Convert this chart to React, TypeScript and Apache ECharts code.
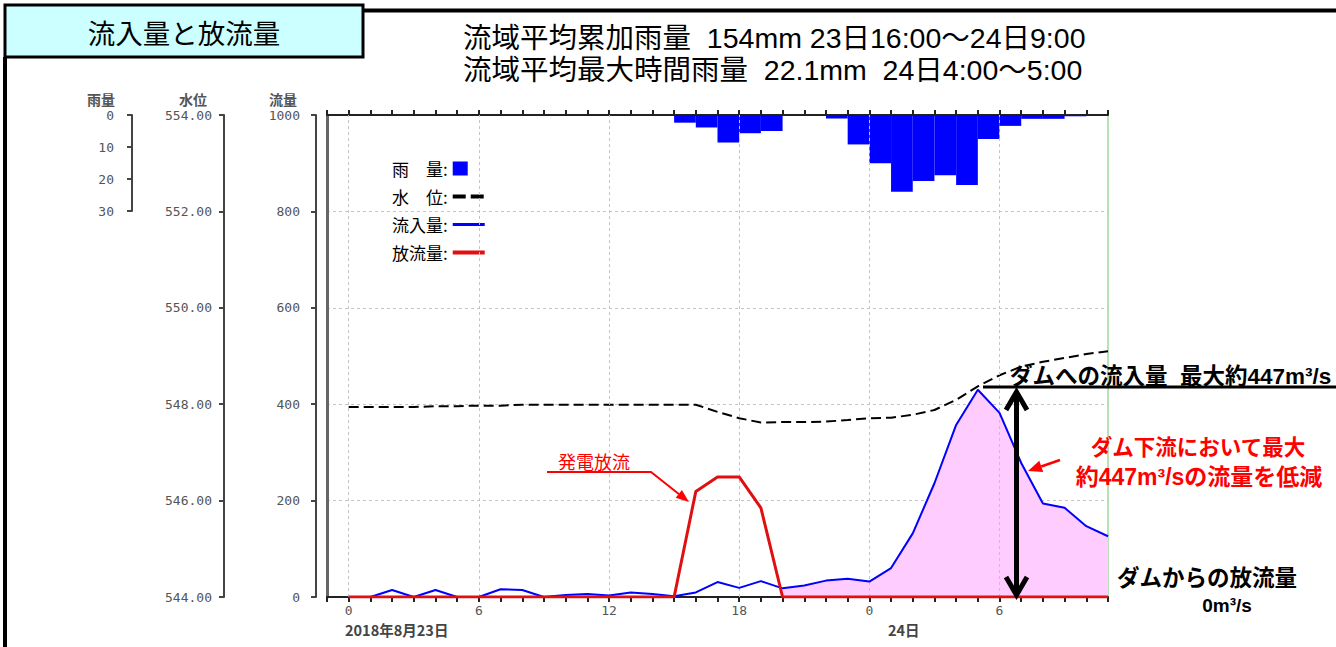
import React, { useEffect, useRef } from "react";
import * as echarts from "echarts";

// hours from 2018-08-23 0:00 (24 = 24日 0:00)
const hours = [0, 1, 2, 3, 4, 5, 6, 7, 8, 9, 10, 11, 12, 13, 14, 15, 16, 17, 18, 19, 20, 21, 22, 23, 24, 25, 26, 27, 28, 29, 30, 31, 32, 33, 34, 35];
const inflow = [0, 0, 14.5, 0, 14.5, 0, 0, 16, 14.5, 0, 4, 6, 3, 9.5, 6, 1.5, 9.5, 31, 19, 33, 18, 24, 34, 38, 32, 60, 132, 236, 357, 430, 382, 278, 194, 185, 147, 126];
const outflow = [0, 0, 0, 0, 0, 0, 0, 0, 0, 0, 0, 0, 0, 0, 0, 0, 219, 249, 249, 185, 0, 0, 0, 0, 0, 0, 0, 0, 0, 0, 0, 0, 0, 0, 0, 0];
const waterLevel = [547.94, 547.94, 547.94, 547.94, 547.96, 547.96, 547.97, 547.97, 547.99, 547.99, 547.99, 547.99, 547.99, 547.99, 547.99, 547.99, 547.99, 547.84, 547.71, 547.62, 547.63, 547.63, 547.64, 547.67, 547.71, 547.72, 547.78, 547.88, 548.09, 548.37, 548.6, 548.78, 548.88, 548.96, 549.04, 549.1];
// hourly rainfall, plotted over [hour-1, hour]
const rainHourEnd = [16, 17, 18, 19, 20, 23, 24, 25, 26, 27, 28, 29, 30, 31, 32, 33, 34];
const rainMm = [2.4, 3.9, 8.6, 5.7, 5.0, 1.1, 9.2, 15.1, 24.0, 20.6, 18.8, 21.9, 7.5, 3.4, 1.2, 1.2, 0.4];
// hours with pink "reduced flow" shading
const shadeFrom = 20;
const gridHours = [0, 6, 12, 18, 24, 30];

const names = { rain: "雨　量", level: "水　位", inflow: "流入量", outflow: "放流量" };
const JP = "Noto Sans CJK JP";
const MIX = "Liberation Sans, Noto Sans CJK JP";
const MONO = "DejaVu Sans Mono";

function arrowHead(tail: number[], tip: number[], len: number, half: number) {
  const dx = tip[0] - tail[0];
  const dy = tip[1] - tail[1];
  const l = Math.hypot(dx, dy);
  const ux = dx / l, uy = dy / l;
  const bx = tip[0] - ux * len, by = tip[1] - uy * len;
  return {
    base: [bx, by],
    pts: [tip, [bx - uy * half, by + ux * half], [bx + uy * half, by - ux * half]],
  };
}

export default function App() {
  const ref = useRef<HTMLDivElement>(null);
  useEffect(() => {
    if (!ref.current) return;
    const chart = echarts.init(ref.current, null, { renderer: "svg" });

    const axisLblStyle = { color: "#555", fontSize: 13, fontFamily: MONO };
    const nameStyle = (pad: number) => ({ color: "#555", fontSize: 14, fontFamily: JP, fontWeight: "bold" as const, align: "right" as const, padding: [0, pad, 0, 0] });
    const yLine = { show: true, onZero: false, lineStyle: { color: "#444", width: 2 } };
    const yTick = { show: true, length: 5, lineStyle: { color: "#444", width: 2 } };

    const a1 = arrowHead([651, 472], [689, 502], 13, 5);
    const a2 = arrowHead([1060, 460], [1028, 471], 14, 6);

    chart.setOption({
      animation: false,
      backgroundColor: "#fff",
      grid: [
        { left: 327, right: 228, top: 115, bottom: 50 },
        { left: 327, right: 228, top: 115, height: 96 },
      ],
      xAxis: [
        {
          gridIndex: 0, type: "value", min: -1, max: 35, interval: 1, position: "bottom",
          axisLine: { show: true, onZero: false, lineStyle: { color: "#222", width: 2 } },
          axisTick: { show: true, length: 5, lineStyle: { color: "#222", width: 2 } },
          axisLabel: {
            ...axisLblStyle, margin: 7,
            formatter: (v: number) => (v >= 0 && v % 6 === 0 ? String(v % 24) : ""),
          },
          splitLine: { show: false },
        },
        {
          gridIndex: 0, type: "value", min: -1, max: 35, interval: 1, position: "top",
          axisLine: { show: true, onZero: false, lineStyle: { color: "#222", width: 2 } },
          axisTick: { show: true, length: 5, lineStyle: { color: "#222", width: 2 } },
          axisLabel: { show: false },
          splitLine: { show: false },
        },
        { gridIndex: 1, type: "value", min: -1, max: 35, show: false },
      ],
      yAxis: [
        {
          gridIndex: 0, type: "value", min: 0, max: 1000, interval: 200, position: "left", offset: 11,
          name: "流量", nameLocation: "end", nameGap: 9, nameTextStyle: nameStyle(19),
          axisLine: yLine, axisTick: yTick,
          axisLabel: { ...axisLblStyle, margin: 16, formatter: (v: number) => String(v) },
          splitLine: { show: true, lineStyle: { color: "#c4c4c4", type: [3, 3], width: 1 } },
        },
        {
          gridIndex: 0, type: "value", min: 544, max: 554, interval: 2, position: "left", offset: 103,
          name: "水位", nameLocation: "end", nameGap: 9, nameTextStyle: nameStyle(17),
          axisLine: yLine, axisTick: yTick,
          axisLabel: { ...axisLblStyle, margin: 12, formatter: (v: number) => v.toFixed(2) },
          splitLine: { show: false },
        },
        {
          gridIndex: 1, type: "value", min: 0, max: 30, interval: 10, inverse: true, position: "left", offset: 195,
          name: "雨量", nameLocation: "start", nameGap: 9, nameTextStyle: nameStyle(17),
          axisLine: yLine, axisTick: yTick,
          axisLabel: { ...axisLblStyle, margin: 18 },
          splitLine: { show: false },
        },
        {
          gridIndex: 0, type: "value", min: 0, max: 1000, position: "left", offset: 0,
          axisLine: { show: true, onZero: false, lineStyle: { color: "#666", width: 3 } },
          axisTick: { show: false }, axisLabel: { show: false }, splitLine: { show: false },
        },
        {
          gridIndex: 0, type: "value", min: 0, max: 1000, position: "right", offset: 0,
          axisLine: { show: true, onZero: false, lineStyle: { color: "#9fd89f", width: 1.5 } },
          axisTick: { show: false }, axisLabel: { show: false }, splitLine: { show: false },
        },
      ],
      legend: {
        orient: "vertical", left: 387, top: 155, align: "right",
        itemWidth: 32, itemHeight: 14, itemGap: 11, selectedMode: false,
        textStyle: { fontSize: 17, fontFamily: JP, color: "#000" },
        formatter: (n: string) => n + ":",
        data: [
          { name: names.rain, icon: "path://M0,0H15V14H0Z M31.9,13.9H32V14H31.9Z" },
          { name: names.level, icon: "path://M0,5H13V9H0Z M18,5H31V9H18Z M0,0H0.1V0.1H0Z M31.9,13.9H32V14H31.9Z" },
          { name: names.inflow, icon: "path://M0,5.5H32V8.5H0Z M0,0H0.1V0.1H0Z M31.9,13.9H32V14H31.9Z" },
          { name: names.outflow, icon: "path://M0,5H32V9H0Z M0,0H0.1V0.1H0Z M31.9,13.9H32V14H31.9Z" },
        ],
      },
      series: [
        {
          type: "line", name: "grid", xAxisIndex: 0, yAxisIndex: 0, z: 0, silent: true,
          data: [[0, 0]], symbol: "none", lineStyle: { opacity: 0 },
          markLine: {
            silent: true, symbol: "none", label: { show: false },
            lineStyle: { color: "#c4c4c4", type: [3, 3], width: 1 },
            data: gridHours.map((h) => ({ xAxis: h })),
          },
        },
        {
          type: "line", name: "shade", xAxisIndex: 0, yAxisIndex: 0, z: 1, silent: true,
          data: hours.filter((h) => h >= shadeFrom).map((h) => [h, inflow[h]]),
          symbol: "none", lineStyle: { width: 0 },
          areaStyle: { color: "#ffccff", opacity: 1 },
        },
        {
          type: "custom", name: names.rain, xAxisIndex: 2, yAxisIndex: 2, z: 3,
          itemStyle: { color: "#0000ff" },
          data: rainHourEnd.map((h, i) => [h, rainMm[i]]),
          renderItem: (params: any, api: any) => {
            const end = api.value(0);
            const mm = api.value(1);
            const a = api.coord([end - 1, 0]);
            const b = api.coord([end, mm]);
            return {
              type: "rect",
              shape: { x: a[0], y: a[1], width: b[0] - a[0], height: b[1] - a[1] },
              style: { fill: "#0000ff" },
            };
          },
        },
        {
          type: "line", name: names.level, xAxisIndex: 0, yAxisIndex: 1, z: 4,
          data: hours.map((h, i) => [h, waterLevel[i]]),
          symbol: "none", color: "#000",
          lineStyle: { color: "#000", width: 2, type: [10, 5] },
        },
        {
          type: "line", name: names.inflow, xAxisIndex: 0, yAxisIndex: 0, z: 5,
          data: hours.map((h, i) => [h, inflow[i]]),
          symbol: "none", color: "#0000ff",
          lineStyle: { color: "#0000ff", width: 2 },
        },
        {
          type: "line", name: names.outflow, xAxisIndex: 0, yAxisIndex: 0, z: 6,
          data: hours.map((h, i) => [h, outflow[i]]),
          symbol: "none", color: "#e01010",
          lineStyle: { color: "#e01010", width: 3 },
        },
      ],
      graphic: [
        { type: "rect", z: 10, shape: { x: 5, y: 5, width: 358, height: 52 }, style: { fill: "#ccffff", stroke: "#000", lineWidth: 3 } },
        { type: "text", z: 11, x: 184, y: 32, style: { text: "流入量と放流量", fontSize: 27.5, fontFamily: JP, fill: "#000", align: "center", verticalAlign: "middle" } },
        { type: "line", z: 10, shape: { x1: 363, y1: 10.5, x2: 1336, y2: 10.5 }, style: { stroke: "#000", lineWidth: 4 } },
        { type: "line", z: 10, shape: { x1: 5, y1: 57, x2: 5, y2: 647 }, style: { stroke: "#000", lineWidth: 4 } },
        { type: "text", z: 11, x: 463, y: 38, style: { text: "流域平均累加雨量  154mm 23日16:00～24日9:00", fontSize: 28.5, fontFamily: MIX, fill: "#000", verticalAlign: "middle" } },
        { type: "text", z: 11, x: 463, y: 70, style: { text: "流域平均最大時間雨量  22.1mm  24日4:00～5:00", fontSize: 28.5, fontFamily: MIX, fill: "#000", verticalAlign: "middle" } },
        { type: "text", z: 11, x: 345, y: 629, style: { text: "2018年8月23日", fontSize: 14.5, fontFamily: JP, fill: "#444", verticalAlign: "middle", fontWeight: "bold" } },
        { type: "text", z: 11, x: 888, y: 629, style: { text: "24日", fontSize: 14.5, fontFamily: JP, fill: "#444", verticalAlign: "middle", fontWeight: "bold" } },
        // 発電放流
        { type: "text", z: 11, x: 594, y: 461, style: { text: "発電放流", fontSize: 18, fontFamily: JP, fill: "#ff0000", align: "center", verticalAlign: "middle" } },
        { type: "polyline", z: 11, shape: { points: [[547, 472], [651, 472], a1.base] }, style: { stroke: "#ff0000", lineWidth: 2, fill: null } },
        { type: "polygon", z: 11, shape: { points: a1.pts }, style: { fill: "#ff0000" } },
        // peak inflow
        { type: "line", z: 11, shape: { x1: 983, y1: 387, x2: 1336, y2: 387 }, style: { stroke: "#000", lineWidth: 3 } },
        { type: "text", z: 12, x: 1010, y: 376, style: { text: "ダムへの流入量  最大約447m³/s", fontSize: 22.5, fontFamily: MIX, fontWeight: "bold", fill: "#000", verticalAlign: "middle" } },
        { type: "line", z: 11, shape: { x1: 1016.5, y1: 392, x2: 1016.5, y2: 593 }, style: { stroke: "#000", lineWidth: 5 } },
        { type: "polyline", z: 11, shape: { points: [[1006, 410], [1016.5, 392], [1027, 410]] }, style: { stroke: "#000", lineWidth: 5, fill: null } },
        { type: "polyline", z: 11, shape: { points: [[1006, 577], [1016.5, 595], [1027, 577]] }, style: { stroke: "#000", lineWidth: 5, fill: null } },
        // reduction annotation
        { type: "line", z: 11, shape: { x1: 1060, y1: 460, x2: a2.base[0], y2: a2.base[1] }, style: { stroke: "#ff0000", lineWidth: 2.5 } },
        { type: "polygon", z: 11, shape: { points: a2.pts }, style: { fill: "#ff0000" } },
        { type: "text", z: 11, x: 1198, y: 448, style: { text: "ダム下流において最大", fontSize: 21.5, fontFamily: MIX, fontWeight: "bold", fill: "#ff0000", align: "center", verticalAlign: "middle" } },
        { type: "text", z: 11, x: 1199, y: 477, style: { text: "約447m³/sの流量を低減", fontSize: 23, fontFamily: MIX, fontWeight: "bold", fill: "#ff0000", align: "center", verticalAlign: "middle" } },
        // outflow annotation
        { type: "text", z: 11, x: 1207, y: 578, style: { text: "ダムからの放流量", fontSize: 22.5, fontFamily: MIX, fontWeight: "bold", fill: "#000", align: "center", verticalAlign: "middle" } },
        { type: "text", z: 11, x: 1227, y: 605, style: { text: "0m³/s", fontSize: 19, fontFamily: MIX, fontWeight: "bold", fill: "#000", align: "center", verticalAlign: "middle" } },
      ],
    });
    return () => chart.dispose();
  }, []);
  return <div ref={ref} style={{ position: "absolute", left: 0, top: 0, width: 1336, height: 647 }} />;
}
